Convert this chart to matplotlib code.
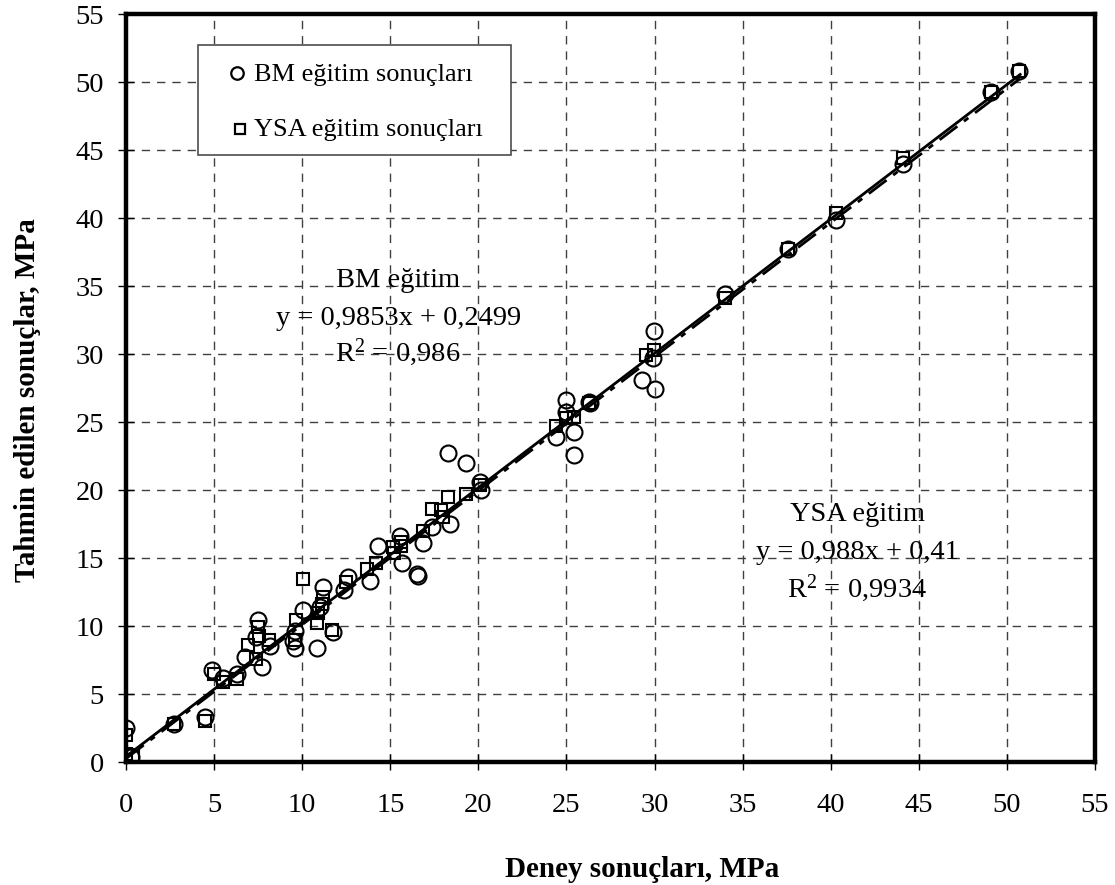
import matplotlib
matplotlib.use("Agg")
import matplotlib.pyplot as plt
from matplotlib.patches import Rectangle
import numpy as np

plt.rcParams['font.family'] = ['Liberation Serif', 'DejaVu Serif']
plt.rcParams['mathtext.fontset'] = 'custom'
plt.rcParams['mathtext.rm'] = 'Liberation Serif'
plt.rcParams['mathtext.it'] = 'Liberation Serif:italic'

# BM (circles) training results: experiment vs prediction
bm_x = [0.0, 0.3, 2.7, 4.5, 4.9, 5.5, 6.3, 7.5, 7.4, 8.2, 6.75, 7.7, 10.05, 9.6, 9.6, 9.5,
        10.85, 11.75, 11.2, 11.0, 12.4, 12.6, 13.85, 14.3, 15.55, 15.65, 16.5, 16.55,
        16.85, 17.35, 18.4, 18.3, 19.3, 20.1, 20.15, 24.4, 25.0, 25.0, 25.4, 25.4,
        26.3, 26.35, 29.3, 29.96, 29.9, 30.0, 34.0, 37.6, 40.3, 44.1, 49.1, 50.7]
bm_y = [2.5, 0.4, 2.8, 3.3, 6.8, 6.2, 6.5, 10.45, 9.2, 8.5, 7.7, 7.0, 11.2, 9.6, 8.4, 8.9,
        8.4, 9.55, 12.9, 11.4, 12.65, 13.6, 13.3, 15.9, 16.6, 14.6, 13.8, 13.7,
        16.1, 17.3, 17.5, 22.7, 21.95, 20.6, 20.0, 23.9, 26.6, 25.7, 24.3, 22.6,
        26.5, 26.4, 28.1, 31.7, 29.7, 27.4, 34.4, 37.7, 39.85, 44.0, 49.3, 50.8]

# YSA (squares) training results
ysa_x = [0.0, 0.0, 0.4, 2.7, 4.5, 5.0, 5.5, 6.3, 7.5, 6.9, 8.1, 7.4, 7.55, 9.65, 9.6,
         10.05, 10.85, 10.9, 11.2, 11.1, 11.7, 12.5, 13.7, 14.2, 15.15, 15.2, 15.6, 15.6,
         16.85, 17.35, 17.9, 18.0, 18.3, 19.3, 20.1, 24.4, 25.0, 25.45, 26.3, 29.5,
         29.96, 34.0, 37.6, 40.3, 44.1, 49.1, 50.7]
ysa_y = [2.0, 0.6, 0.5, 2.8, 3.0, 6.5, 5.9, 6.1, 9.9, 8.6, 9.0, 7.6, 9.3, 10.45, 9.0,
         13.45, 10.2, 10.95, 12.1, 11.6, 9.7, 13.2, 14.2, 14.6, 15.8, 15.4, 16.2, 15.9,
         17.0, 18.6, 18.5, 18.0, 19.5, 19.7, 20.4, 24.7, 25.3, 25.4, 26.4, 29.95,
         30.3, 34.1, 37.7, 40.35, 44.4, 49.3, 50.8]

# Trend line coefficients (from the chart's equations)
bm_slope, bm_icpt = 0.9853, 0.2499
ysa_slope, ysa_icpt = 0.988, 0.41
fit_range = [0.0, 50.75]

ticks = list(range(0, 60, 5))

fig = plt.figure(figsize=(11.15, 8.85), dpi=100)
ax = fig.add_axes([126/1115, 1 - 762/885, (1095-126)/1115, (762-14)/885])
ax.set_xlim(0, 55)
ax.set_ylim(0, 55)
ax.set_xticks(ticks)
ax.set_yticks(ticks)
ax.tick_params(direction='inout', length=12, width=1, labelsize=20.5)
ax.tick_params(axis='x', pad=16)
ax.tick_params(axis='y', pad=10)
for s in ax.spines.values():
    s.set_linewidth(3.2)
    s.set_color('black')
ax.grid(True, color='0.25', linestyle=(0, (6, 5)), linewidth=1.0)
ax.set_axisbelow(True)

ax.plot(bm_x, bm_y, linestyle='none', marker='o', markersize=11.5,
        markerfacecolor='none', markeredgecolor='black', markeredgewidth=1.5, zorder=3)
ax.plot(ysa_x, ysa_y, linestyle='none', marker='s', markersize=8,
        markerfacecolor='none', markeredgecolor='black', markeredgewidth=1.5, zorder=3)

fx = np.array(fit_range)
ax.plot(fx, ysa_slope * fx + ysa_icpt, color='black', linewidth=2.0, zorder=4)
ax.plot(fx, bm_slope * fx + bm_icpt, color='black', linewidth=2.0,
        linestyle=(0, (8, 3, 2, 3)), zorder=4)

# annotations
fs_ann = 20.5
ax.text(15.45, 35.4, 'BM eğitim', ha='center', va='center', fontsize=fs_ann)
ax.text(15.45, 32.6, 'y = 0,9853x + 0,2499', ha='center', va='center', fontsize=fs_ann)
ax.text(15.45, 30.1, 'R$^2$ = 0,986', ha='center', va='center', fontsize=fs_ann)
ax.text(41.5, 18.2, 'YSA eğitim', ha='center', va='center', fontsize=fs_ann)
ax.text(41.5, 15.4, 'y = 0,988x + 0,41', ha='center', va='center', fontsize=fs_ann)
ax.text(41.5, 12.8, 'R$^2$ = 0,9934', ha='center', va='center', fontsize=fs_ann)

# legend box (manual)
def af(px, py):
    return ((px - 126) / 969, (762 - py) / 748)

x0, y0 = af(198, 155)
x1, y1 = af(511, 45)
ax.add_patch(Rectangle((x0, y0), x1 - x0, y1 - y0, transform=ax.transAxes,
                       facecolor='white', edgecolor='0.3', linewidth=1.2, zorder=5))
cx, cy = af(237, 73)
ax.plot([cx], [cy], transform=ax.transAxes, marker='o', markersize=9,
        markerfacecolor='none', markeredgecolor='black', markeredgewidth=1.6, zorder=6,
        clip_on=False)
sx, sy = af(240, 129)
ax.plot([sx], [sy], transform=ax.transAxes, marker='s', markersize=7,
        markerfacecolor='none', markeredgecolor='black', markeredgewidth=1.6, zorder=6,
        clip_on=False)
tx, ty1 = af(254, 75)
_, ty2 = af(254, 130)
ax.text(tx, ty1, 'BM eğitim sonuçları', transform=ax.transAxes, ha='left', va='center',
        fontsize=19, zorder=7)
ax.text(tx, ty2, 'YSA eğitim sonuçları', transform=ax.transAxes, ha='left', va='center',
        fontsize=19, zorder=7)

fig.text(505/1115, 1 - 877/885, 'Deney sonuçları, MPa', ha='left', va='baseline',
         fontsize=21, fontweight='bold')
fig.text(28/1115, 1 - 400/885, 'Tahmin edilen sonuçlar, MPa', ha='center', va='center',
         fontsize=21, fontweight='bold', rotation=90)

fig.savefig('out.png', dpi=100)
